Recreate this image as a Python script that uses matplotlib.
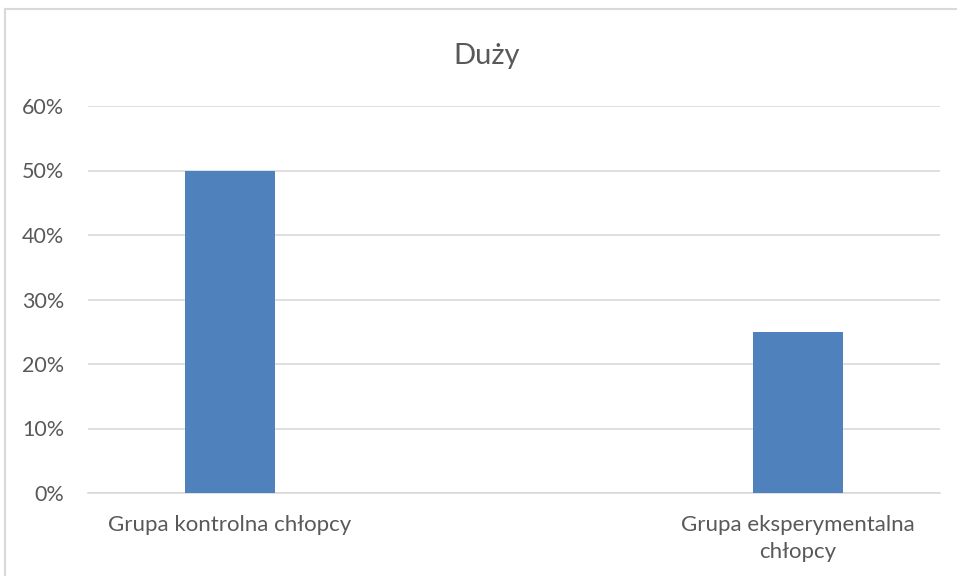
import matplotlib
matplotlib.use("Agg")
import matplotlib.pyplot as plt
from matplotlib.lines import Line2D

plt.rcParams['font.family'] = ['Lato', 'DejaVu Sans']

categories = ["Grupa kontrolna chłopcy", "Grupa eksperymentalna\nchłopcy"]
values = [0.50, 0.25]
yticks = [0, 0.1, 0.2, 0.3, 0.4, 0.5, 0.6]
ytick_labels = ["0%", "10%", "20%", "30%", "40%", "50%", "60%"]
title = "Duży"

fig = plt.figure(figsize=(9.57, 5.76), dpi=100)
ax = fig.add_axes([88/957, 1-493/576, (940-88)/957, (493-106)/576])

x = list(range(len(categories)))
ax.bar(x, values, width=0.157, color="#4F81BD", zorder=3)
ax.set_xlim(-0.25, 1.25)
ax.set_ylim(0, 0.6)
ax.set_yticks(yticks)
ax.set_yticklabels(ytick_labels, fontsize=15.5, color="#595959")
ax.set_xticks(x)
ax.set_xticklabels(categories, fontsize=16, color="#595959", linespacing=1.45)
ax.tick_params(axis='both', length=0)
ax.tick_params(axis='y', pad=17)
ax.tick_params(axis='x', pad=15.5)
ax.grid(axis='y', color="#D9D9D9", linewidth=1.2, zorder=0)
for s in ['top', 'right', 'left']:
    ax.spines[s].set_visible(False)
ax.spines['bottom'].set_color("#D9D9D9")
ax.spines['bottom'].set_linewidth(1.2)

fig.text(487/957, 1-56/576, title, ha='center', va='center', fontsize=21, color="#595959")

# chart frame
fig.add_artist(Line2D([5/957, 5/957], [0, 1-9/576], transform=fig.transFigure, color="#D9D9D9", lw=1.5))
fig.add_artist(Line2D([5/957, 1], [1-9/576, 1-9/576], transform=fig.transFigure, color="#D9D9D9", lw=1.5))

fig.savefig("out.png", dpi=100, facecolor="white")
